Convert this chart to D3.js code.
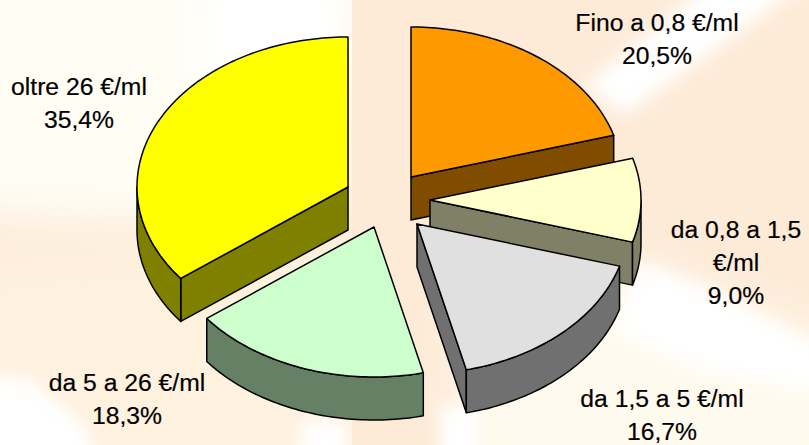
<!DOCTYPE html>
<html>
<head>
<meta charset="utf-8">
<script src="https://cdn.jsdelivr.net/npm/d3@7"></script>
<style>
  html, body { margin: 0; padding: 0; background: #fdebd8; }
  svg { display: block; }
  text { font-family: "Liberation Sans", Arial, sans-serif; font-size: 24.7px; fill: #000; stroke: #000; stroke-width: 0.2px; text-anchor: middle; }
</style>
</head>
<body>
<div id="chart"></div>
<script>
const categories = ["Fino a 0,8 €/ml", "da 0,8 a 1,5 €/ml", "da 1,5 a 5 €/ml", "da 5 a 26 €/ml", "oltre 26 €/ml"];
const shares = [20.5, 9.0, 16.7, 18.3, 35.4];
const shareLabels = ["20,5%", "9,0%", "16,7%", "18,3%", "35,4%"];

// split label lines, the 0,8-1,5 one wraps in the original
const labelLines = [
    ["Fino a 0,8 €/ml"],
    ["da 0,8 a 1,5", "€/ml"],
    ["da 1,5 a 5 €/ml"],
    ["da 5 a 26 €/ml"],
    ["oltre 26 €/ml"]
];

const topColors = ["#ff9900", "#ffffcc", "#e0e0e0", "#ccffcc", "#ffff00"];
const wallColors = ["#804d00", "#808066", "#707070", "#668066", "#808000"];

// layout
const width = 809, height = 445;
const depth = 43;
const apexes = [[411, 177], [430, 200], [417, 224], [374, 227], [348, 187]];
const labelPos = [[657, 31], [736, 238], [662, 407], [127, 391], [79, 95]];
const lineGap = 33;

const svg = d3.select("#chart").append("svg")
    .attr("width", width)
    .attr("height", height);

// background, blurred shapes standing in for the faded slide image
const defs = svg.append("defs");
defs.append("filter").attr("id", "soft").attr("x", "-30%").attr("y", "-30%").attr("width", "160%").attr("height", "160%")
    .append("feGaussianBlur").attr("stdDeviation", 9);
defs.append("filter").attr("id", "softer").attr("x", "-30%").attr("y", "-30%").attr("width", "160%").attr("height", "160%")
    .append("feGaussianBlur").attr("stdDeviation", 22);

const bg = svg.append("g");
bg.append("rect").attr("width", width).attr("height", height).attr("fill", "#fdebd8");
const glow = [
    {points: "-40,-40 352,-40 352,200 130,225 -40,215", fill: "#fffdf4", f: "softer"},
    {points: "200,-40 352,-40 352,90 200,90", fill: "#ffffff", f: "softer"},
    {points: "-40,250 352,230 352,485 -40,485", fill: "#fef1de", f: "softer"},
    {points: "-30,375 30,378 85,425 100,470 -30,470", fill: "#ffffff", f: "soft"},
    {points: "715,-20 810,-20 625,115 585,85", fill: "#ffffff", f: "soft"},
    {points: "460,300 640,270 840,345 840,485 470,485", fill: "#fffaee", f: "softer"},
    {points: "640,262 700,285 840,355 840,395 700,370 610,330", fill: "#ffffff", f: "soft"},
    {points: "440,405 480,405 480,470 440,470", fill: "#ffffff", f: "soft"},
    {points: "300,420 348,420 348,470 300,470", fill: "#ffffff", f: "soft"}
];
bg.selectAll("polygon")
    .data(glow)
    .join("polygon")
    .attr("points", d => d.points)
    .attr("fill", d => d.fill)
    .attr("filter", d => `url(#${d.f})`);
// hard edge of the background at the middle
bg.append("rect").attr("x", 352).attr("y", 0).attr("width", 62).attr("height", height).attr("fill", "#fdebd8");

// pie geometry, angle 0 at the top going clockwise
const pie = d3.pie().sort(null).value(d => d.share);
const slices = pie(shares.map((share, i) => ({share, i})));

const xUnit = d3.scaleLinear().domain([-1, 1]).range([-211, 211]);
const yUnit = d3.scaleLinear().domain([-1, 1]).range([150, -150]);

const rimPoint = (a, c, drop = 0) => [c[0] + xUnit(Math.sin(a)), c[1] + yUnit(Math.cos(a)) + drop];
const sampleAngles = (a0, a1) => {
    const n = Math.max(2, Math.ceil((a1 - a0) / 0.02));
    return d3.range(n + 1).map(k => a0 + (a1 - a0) * k / n);
};
const line = d3.line();

const order = d3.range(slices.length).sort((a, b) => apexes[a][1] - apexes[b][1]);

const sliceG = svg.selectAll("g.slice")
    .data(order)
    .join("g")
    .attr("class", "slice")
    .attr("stroke", "#000")
    .attr("stroke-width", 1.5)
    .attr("stroke-linejoin", "round");

sliceG.each(function (i) {
    const g = d3.select(this);
    const s = slices[i], c = apexes[i];

    // cut faces that look towards the viewer
    [s.startAngle, s.endAngle].forEach((a, k) => {
        const facing = k === 0 ? Math.sin(a) < 0 : Math.sin(a) > 0;
        if (!facing) return;
        const p = rimPoint(a, c);
        g.append("path")
            .attr("fill", wallColors[i])
            .attr("d", line([c, p, [p[0], p[1] + depth], [c[0], c[1] + depth]]) + "Z");
    });

    // outer wall, only the front half of the rim shows
    const lo = Math.max(s.startAngle, Math.PI / 2);
    const hi = Math.min(s.endAngle, Math.PI * 3 / 2);
    if (hi > lo) {
        const rim = sampleAngles(lo, hi);
        const upper = rim.map(a => rimPoint(a, c));
        const lower = rim.slice().reverse().map(a => rimPoint(a, c, depth));
        g.append("path")
            .attr("fill", wallColors[i])
            .attr("d", line(upper.concat(lower)) + "Z");
    }

    // top
    const top = sampleAngles(s.startAngle, s.endAngle).map(a => rimPoint(a, c));
    g.append("path")
        .attr("fill", topColors[i])
        .attr("d", line([c].concat(top)) + "Z");
});

// labels
const labels = svg.selectAll("text.label")
    .data(categories)
    .join("text")
    .attr("class", "label")
    .attr("transform", (d, i) => `translate(${labelPos[i][0]},${labelPos[i][1]})`);

labels.each(function (d, i) {
    const rows = labelLines[i].concat(shareLabels[i]);
    d3.select(this).selectAll("tspan")
        .data(rows)
        .join("tspan")
        .attr("x", 0)
        .attr("y", (r, k) => k * lineGap)
        .text(r => r);
});
</script>
</body>
</html>
